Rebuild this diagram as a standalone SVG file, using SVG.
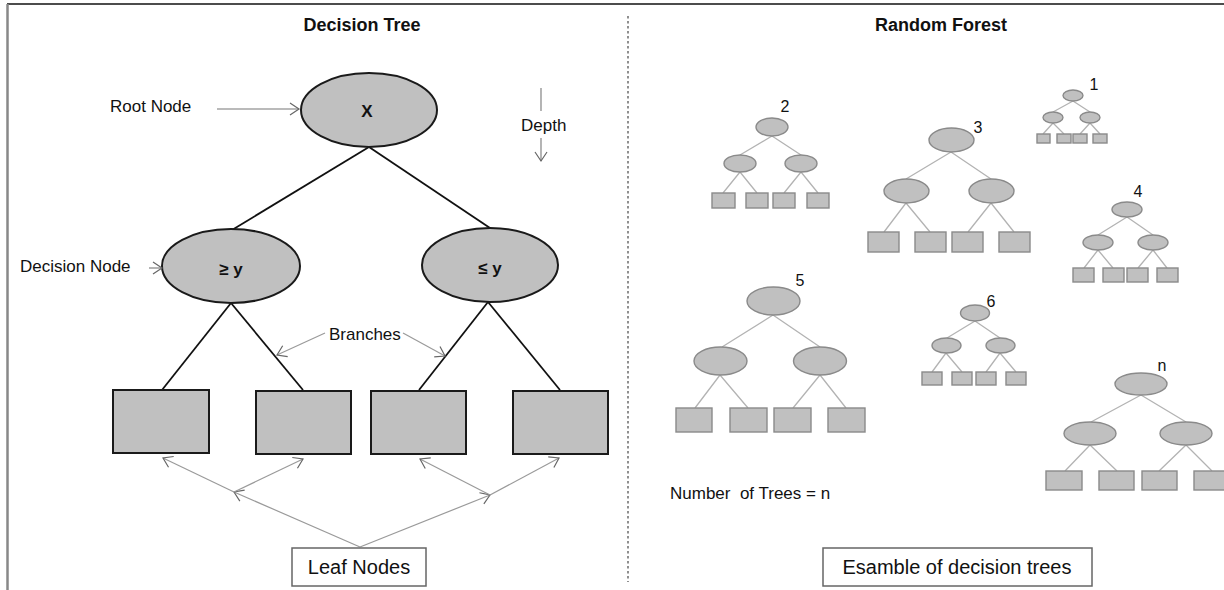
<svg xmlns="http://www.w3.org/2000/svg" width="1224" height="590" viewBox="0 0 1224 590">
<style>
  .t { font-family: "Liberation Sans", Arial, sans-serif; fill: #111; }
  .title { font-size: 18px; font-weight: bold; text-anchor: middle; }
  .lbl { font-size: 17px; }
  .big { font-size: 20px; text-anchor: middle; }
  .num { font-size: 16px; text-anchor: middle; }
  .dnode { fill: #c0c0c0; stroke: #1a1a1a; stroke-width: 2; }
  .dline { stroke: #111; stroke-width: 1.8; fill: none; }
  .fnode { fill: #c0c0c0; stroke: #8a8a8a; stroke-width: 1.4; }
  .fline { stroke: #b3b3b3; stroke-width: 1.3; fill: none; }
  .ann { stroke: #777; stroke-width: 1.1; fill: none; }
  .ann2 { stroke: #9a9a9a; stroke-width: 1.2; fill: none; }
  .box { fill: #fff; stroke: #666; stroke-width: 1.5; }
</style>
<defs>
  <marker id="ah" markerUnits="userSpaceOnUse" markerWidth="12" markerHeight="14" refX="10" refY="7" orient="auto" viewBox="0 0 12 14">
    <path d="M1,1 L10,7 L1,13" fill="none" stroke="#666" stroke-width="1.2"/>
  </marker>
</defs>
<rect x="0" y="0" width="1224" height="590" fill="#fff"/>
<!-- frame -->
<line x1="7" y1="4" x2="1224" y2="4" stroke="#111" stroke-width="1.6"/>
<line x1="7.5" y1="4" x2="7.5" y2="590" stroke="#888" stroke-width="2.5"/>
<line x1="628" y1="16" x2="628" y2="582" stroke="#555" stroke-width="1.3" stroke-dasharray="2.5 2.5"/>

<text class="t title" x="362" y="31">Decision Tree</text>
<text class="t title" x="941" y="31">Random Forest</text>

<!-- Decision tree connectors -->
<g id="dt-connectors">
  <line class="dline" x1="369" y1="147" x2="232" y2="230"/>
  <line class="dline" x1="369" y1="147" x2="490" y2="228"/>
  <line class="dline" x1="231" y1="303" x2="162" y2="390"/>
  <line class="dline" x1="231" y1="303" x2="303" y2="390"/>
  <line class="dline" x1="488" y1="302" x2="419" y2="390"/>
  <line class="dline" x1="488" y1="302" x2="560" y2="390"/>
</g>

<g id="dt-root">
  <ellipse class="dnode" cx="369" cy="110" rx="68" ry="37"/>
  <text class="t" x="367" y="117" font-size="17" font-weight="bold" text-anchor="middle">X</text>
</g>
<g id="dt-left">
  <ellipse class="dnode" cx="231" cy="266" rx="69" ry="37"/>
  <text class="t" x="231" y="275" font-size="17" font-weight="bold" text-anchor="middle">≥ y</text>
</g>
<g id="dt-right">
  <ellipse class="dnode" cx="490" cy="265" rx="68" ry="37"/>
  <text class="t" x="490" y="274" font-size="17" font-weight="bold" text-anchor="middle">≤ y</text>
</g>
<g id="dt-leaf1"><rect class="dnode" x="113" y="390" width="96" height="63"/></g>
<g id="dt-leaf2"><rect class="dnode" x="256" y="391" width="95" height="63"/></g>
<g id="dt-leaf3"><rect class="dnode" x="371" y="391" width="95" height="63"/></g>
<g id="dt-leaf4"><rect class="dnode" x="513" y="391" width="95" height="63"/></g>

<!-- annotations -->
<g id="dt-annotations">
  <text class="t lbl" x="110" y="112">Root Node</text>
  <line class="ann" x1="217" y1="109" x2="299" y2="109" marker-end="url(#ah)"/>
  <line class="ann" x1="541" y1="88" x2="541" y2="111"/>
  <text class="t lbl" x="521" y="131">Depth</text>
  <line class="ann" x1="541" y1="138" x2="541" y2="161" marker-end="url(#ah)"/>
  <text class="t lbl" x="20" y="272">Decision Node</text>
  <line class="ann" x1="149" y1="268" x2="162" y2="268" marker-end="url(#ah)"/>
  <text class="t lbl" x="329" y="340">Branches</text>
  <line class="ann2" x1="325" y1="333" x2="277" y2="355" marker-end="url(#ah)"/>
  <line class="ann2" x1="403" y1="333" x2="445" y2="356" marker-end="url(#ah)"/>
  <line class="ann2" x1="360" y1="547" x2="234" y2="492" marker-end="url(#ah)"/>
  <line class="ann2" x1="234" y1="492" x2="163" y2="458" marker-end="url(#ah)"/>
  <line class="ann2" x1="234" y1="492" x2="303" y2="459" marker-end="url(#ah)"/>
  <line class="ann2" x1="360" y1="547" x2="490" y2="495" marker-end="url(#ah)"/>
  <line class="ann2" x1="490" y1="495" x2="559" y2="458" marker-end="url(#ah)"/>
  <line class="ann2" x1="490" y1="495" x2="420" y2="459" marker-end="url(#ah)"/>
</g>
<g id="leaf-nodes-label">
  <rect class="box" x="292" y="548" width="134" height="38"/>
  <text class="t big" x="359" y="574">Leaf Nodes</text>
</g>

<!-- Random forest connectors -->
<g id="rf-connectors">
  <path class="fline" d="M1073,101 L1053,112 M1073,101 L1090,112 M1053,123 L1043,134 M1053,123 L1064,134 M1090,123 L1080,134 M1090,123 L1100,134"/>
  <path class="fline" d="M772,136 L740,155 M772,136 L801,155 M740,172 L723,193 M740,172 L757,193 M801,172 L784,193 M801,172 L818,193"/>
  <path class="fline" d="M951,152 L906,179 M951,152 L991,179 M906,203 L884,232 M906,203 L930,232 M991,203 L968,232 M991,203 L1014,232"/>
  <path class="fline" d="M1127,217 L1098,235 M1127,217 L1153,235 M1098,250 L1084,268 M1098,250 L1113,268 M1153,250 L1138,268 M1153,250 L1167,268"/>
  <path class="fline" d="M773,315 L722,347 M773,315 L820,347 M720,375 L695,408 M720,375 L748,408 M820,375 L793,408 M820,375 L846,408"/>
  <path class="fline" d="M975,321 L947,338 M975,321 L1000,338 M946,353 L932,372 M946,353 L962,372 M1000,353 L986,372 M1000,353 L1016,372"/>
  <path class="fline" d="M1141,395 L1091,422 M1141,395 L1186,422 M1090,445 L1065,471 M1090,445 L1117,471 M1186,445 L1159,471 M1186,445 L1212,471"/>
</g>

<g id="rf-tree1">
  <ellipse class="fnode" cx="1073" cy="95.5" rx="10" ry="5.5"/>
  <ellipse class="fnode" cx="1053" cy="117.5" rx="10" ry="5.5"/>
  <ellipse class="fnode" cx="1090" cy="117.5" rx="10" ry="5.5"/>
  <rect class="fnode" x="1037" y="134" width="13" height="9"/>
  <rect class="fnode" x="1057" y="134" width="14" height="9"/>
  <rect class="fnode" x="1073" y="134" width="14" height="9"/>
  <rect class="fnode" x="1093" y="134" width="14" height="9"/>
  <text class="t num" x="1094" y="90">1</text>
</g>
<g id="rf-tree2">
  <ellipse class="fnode" cx="772" cy="127" rx="16" ry="9"/>
  <ellipse class="fnode" cx="740" cy="163.5" rx="16" ry="8.5"/>
  <ellipse class="fnode" cx="801" cy="163.5" rx="16" ry="8.5"/>
  <rect class="fnode" x="712" y="193" width="23" height="15"/>
  <rect class="fnode" x="746" y="193" width="22" height="15"/>
  <rect class="fnode" x="773" y="193" width="22" height="15"/>
  <rect class="fnode" x="807" y="193" width="22" height="15"/>
  <text class="t num" x="785" y="112">2</text>
</g>
<g id="rf-tree3">
  <ellipse class="fnode" cx="951.5" cy="140" rx="22.5" ry="12"/>
  <ellipse class="fnode" cx="906.5" cy="191" rx="22.5" ry="12"/>
  <ellipse class="fnode" cx="991.5" cy="191" rx="22.5" ry="12"/>
  <rect class="fnode" x="868" y="232" width="31" height="20"/>
  <rect class="fnode" x="915" y="232" width="31" height="20"/>
  <rect class="fnode" x="952" y="232" width="31" height="20"/>
  <rect class="fnode" x="999" y="232" width="31" height="20"/>
  <text class="t num" x="978" y="133">3</text>
</g>
<g id="rf-tree4">
  <ellipse class="fnode" cx="1127" cy="209.5" rx="15" ry="7.5"/>
  <ellipse class="fnode" cx="1098" cy="242.5" rx="15" ry="7.5"/>
  <ellipse class="fnode" cx="1153" cy="242.5" rx="15" ry="7.5"/>
  <rect class="fnode" x="1073" y="268" width="21" height="14"/>
  <rect class="fnode" x="1103" y="268" width="21" height="14"/>
  <rect class="fnode" x="1127" y="268" width="21" height="14"/>
  <rect class="fnode" x="1157" y="268" width="21" height="14"/>
  <text class="t num" x="1138" y="197">4</text>
</g>
<g id="rf-tree5">
  <ellipse class="fnode" cx="773.5" cy="301" rx="26.5" ry="14"/>
  <ellipse class="fnode" cx="720.5" cy="361" rx="26.5" ry="14"/>
  <ellipse class="fnode" cx="820" cy="361" rx="26.5" ry="14"/>
  <rect class="fnode" x="676" y="408" width="36" height="24"/>
  <rect class="fnode" x="730" y="408" width="37" height="24"/>
  <rect class="fnode" x="774" y="408" width="37" height="24"/>
  <rect class="fnode" x="828" y="408" width="37" height="24"/>
  <text class="t num" x="800" y="286">5</text>
</g>
<g id="rf-tree6">
  <ellipse class="fnode" cx="975" cy="313" rx="14.5" ry="8"/>
  <ellipse class="fnode" cx="946.5" cy="345.5" rx="14.5" ry="7.5"/>
  <ellipse class="fnode" cx="1000.5" cy="345.5" rx="14.5" ry="7.5"/>
  <rect class="fnode" x="922" y="372" width="20" height="13"/>
  <rect class="fnode" x="952" y="372" width="20" height="13"/>
  <rect class="fnode" x="976" y="372" width="20" height="13"/>
  <rect class="fnode" x="1006" y="372" width="20" height="13"/>
  <text class="t num" x="991" y="307">6</text>
</g>
<g id="rf-treen">
  <ellipse class="fnode" cx="1141" cy="384" rx="26" ry="11"/>
  <ellipse class="fnode" cx="1090" cy="433.5" rx="26" ry="11.5"/>
  <ellipse class="fnode" cx="1186" cy="433.5" rx="26" ry="11.5"/>
  <rect class="fnode" x="1046" y="471" width="36" height="19"/>
  <rect class="fnode" x="1099" y="471" width="35" height="19"/>
  <rect class="fnode" x="1142" y="471" width="35" height="19"/>
  <rect class="fnode" x="1194" y="471" width="36" height="19"/>
  <text class="t num" x="1162" y="371">n</text>
</g>

<text class="t lbl" x="670" y="499" xml:space="preserve" style="white-space: pre">Number  of Trees = n</text>
<g id="ensemble-label">
  <rect class="box" x="823" y="548" width="269" height="38"/>
  <text class="t big" x="957" y="574">Esamble of decision trees</text>
</g>
</svg>
